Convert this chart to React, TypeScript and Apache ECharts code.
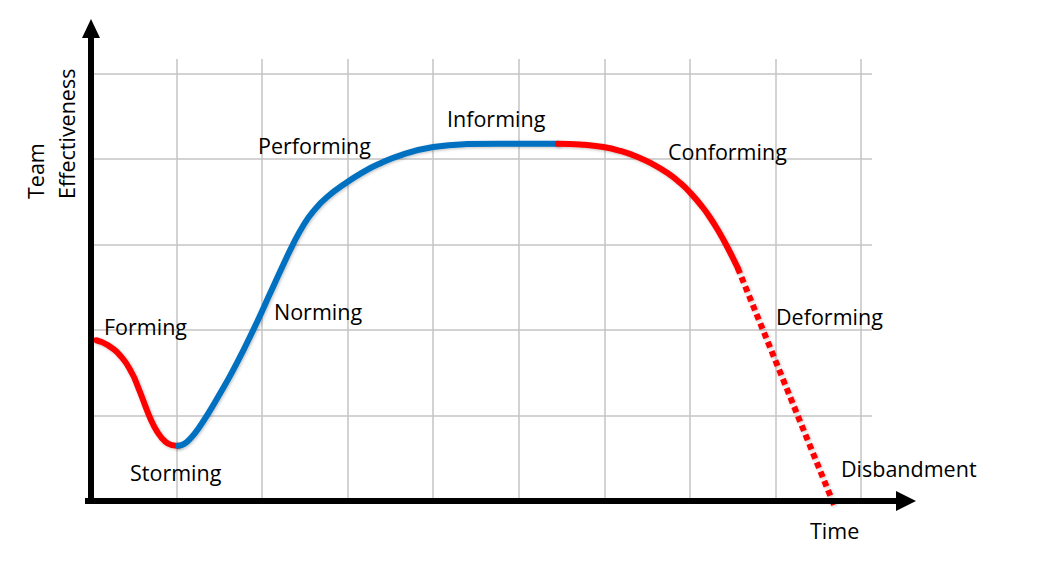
import React, { useEffect, useRef } from "react";
import * as echarts from "echarts";

// Curve segments, in grid units (x: time, y: team effectiveness)
const formingCurve: number[][] = [
  [0.06, 1.88], [0.2, 1.821], [0.36, 1.68], [0.48, 1.493], [0.55, 1.333], [0.63, 1.125], [0.69, 0.975],
  [0.77, 0.817], [0.87, 0.692], [0.95, 0.654], [1.02, 0.646],
];
const normingCurve: number[][] = [
  [1.02, 0.646], [1.09, 0.668], [1.17, 0.74], [1.25, 0.84], [1.38, 1.04], [1.51, 1.26], [1.64, 1.49],
  [1.77, 1.74], [1.94, 2.09], [2.09, 2.42], [2.25, 2.77], [2.36, 3.0], [2.48, 3.22], [2.6, 3.39],
  [2.76, 3.555], [3.01, 3.74], [3.17, 3.84], [3.35, 3.935], [3.65, 4.055], [4.0, 4.14], [4.4, 4.175],
  [4.78, 4.18], [5.46, 4.18],
];
const conformingCurve: number[][] = [
  [5.46, 4.18], [5.72, 4.17], [5.99, 4.14], [6.19, 4.094], [6.39, 4.024], [6.56, 3.944], [6.74, 3.836],
  [6.89, 3.719], [7.01, 3.601], [7.15, 3.436], [7.24, 3.31], [7.33, 3.166], [7.44, 2.968], [7.56, 2.728],
];
const deformingLine: number[][] = [
  [7.56, 2.728], [8.7, -0.08],
];

const stageNames = ["Forming", "Storming", "Norming", "Performing", "Informing", "Conforming", "Deforming", "Disbandment"];
const xAxisTitle = "Time";
const yAxisTitle = ["Team", "Effectiveness"];

// layout for annotations (pixel positions, left edge & middle)
const stageLabelPos: number[][] = [
  [104, 326], [130, 472], [274, 311], [258, 145], [447, 118], [668, 151], [776, 316], [841, 468],
];

const RED = "#ff0000";
const BLUE = "#0070c0";
const FONT = '21.5px "Open Sans", sans-serif';

export default function App() {
  const ref = useRef<HTMLDivElement>(null);
  useEffect(() => {
    if (!ref.current) return;
    const chart = echarts.init(ref.current, null, { renderer: "svg" });
    const lineSeries = (data: number[][], color: string, dashed = false) => ({
      type: "line",
      data,
      smooth: dashed ? false : 0.5,
      showSymbol: false,
      symbol: "none",
      clip: false,
      lineStyle: {
        color,
        width: 6,
        type: dashed ? [6, 4] : "solid",
        cap: dashed ? "butt" : "round",
        join: "round",
        shadowColor: "rgba(0,0,0,0.25)",
        shadowBlur: 3,
        shadowOffsetX: 1,
        shadowOffsetY: 1,
      },
      z: 3,
    });
    const texts: any[] = stageNames.map((name, i) => ({
      type: "text",
      x: stageLabelPos[i][0],
      y: stageLabelPos[i][1],
      style: { text: name, font: FONT, fill: "#000", align: "left", verticalAlign: "middle" },
      z: 10,
    }));
    texts.push({
      type: "text",
      x: 810,
      y: 530,
      style: { text: xAxisTitle, font: FONT, fill: "#000", align: "left", verticalAlign: "middle" },
      z: 10,
    });
    texts.push({
      type: "text",
      x: 35,
      y: 199,
      rotation: Math.PI / 2,
      style: { text: yAxisTitle[0], font: FONT, fill: "#000", align: "left", verticalAlign: "middle" },
      z: 10,
    });
    texts.push({
      type: "text",
      x: 66,
      y: 199,
      rotation: Math.PI / 2,
      style: { text: yAxisTitle[1], font: FONT, fill: "#000", align: "left", verticalAlign: "middle" },
      z: 10,
    });
    const axes: any[] = [
      { type: "line", shape: { x1: 85, y1: 501, x2: 900, y2: 501 }, style: { stroke: "#000", lineWidth: 6 }, z: 5 },
      { type: "polygon", shape: { points: [[916, 501], [896, 491], [896, 511]] }, style: { fill: "#000" }, z: 5 },
      { type: "line", shape: { x1: 91, y1: 36, x2: 91, y2: 504 }, style: { stroke: "#000", lineWidth: 6 }, z: 5 },
      { type: "polygon", shape: { points: [[91, 19], [82, 38], [100, 38]] }, style: { fill: "#000" }, z: 5 },
    ];
    chart.setOption({
      animation: false,
      backgroundColor: "#ffffff",
      grid: { left: 91, top: 59, width: 781, height: 442 },
      xAxis: {
        type: "value",
        min: 0,
        max: 9.13,
        interval: 1,
        axisLine: { show: false },
        axisTick: { show: false },
        axisLabel: { show: false },
        splitLine: { show: true, showMinLine: false, showMaxLine: false, lineStyle: { color: "#c4c4c4", width: 1.5 } },
      },
      yAxis: {
        type: "value",
        min: 0,
        max: 5.17,
        interval: 1,
        axisLine: { show: false },
        axisTick: { show: false },
        axisLabel: { show: false },
        splitLine: { show: true, showMinLine: false, showMaxLine: false, lineStyle: { color: "#c4c4c4", width: 1.5 } },
      },
      series: [
        lineSeries(formingCurve, RED),
        lineSeries(normingCurve, BLUE),
        lineSeries(conformingCurve, RED),
        lineSeries(deformingLine, RED, true),
      ],
      graphic: [...axes, ...texts],
    });
    return () => chart.dispose();
  }, []);
  return (
    <div
      ref={ref}
      style={{ position: "absolute", left: 0, top: 0, width: 1051, height: 571, background: "#fff" }}
    />
  );
}
